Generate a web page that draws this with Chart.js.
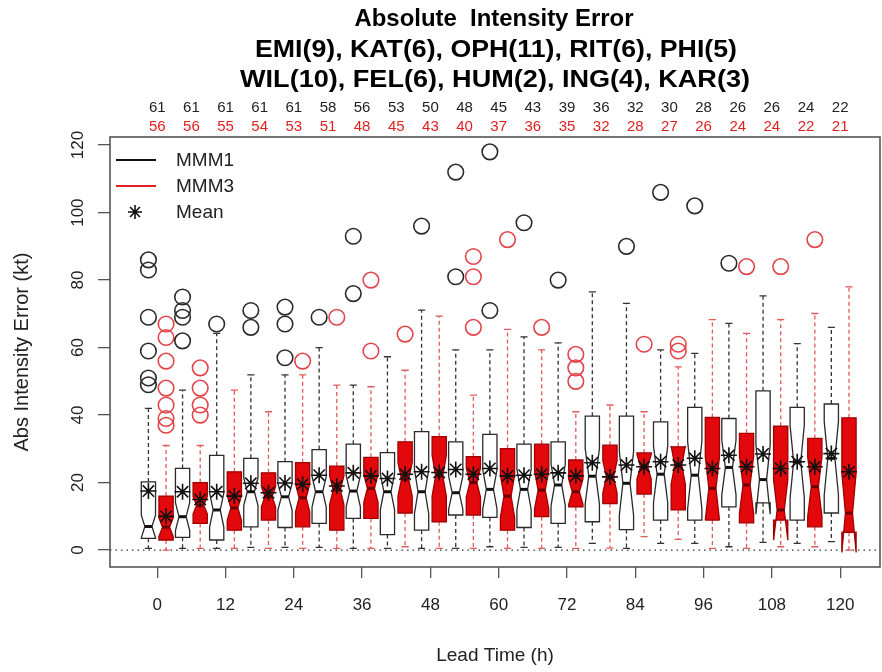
<!DOCTYPE html>
<html>
<head>
<meta charset="utf-8">
<script src="https://cdn.jsdelivr.net/npm/chart.js@4.4.1/dist/chart.umd.min.js"></script>
<style>
  html, body { margin: 0; padding: 0; background: #fff; }
</style>
</head>
<body>
<canvas id="myChart" width="882" height="672"></canvas>
<script>
// lead times (h) and sample sizes
const leadTimes = [0, 6, 12, 18, 24, 30, 36, 42, 48, 54, 60, 66, 72, 78, 84, 90, 96, 102, 108, 114, 120];
const countsMMM1 = [61, 61, 61, 61, 61, 58, 56, 53, 50, 48, 45, 43, 39, 36, 32, 30, 28, 26, 26, 24, 22];
const countsMMM3 = [56, 56, 55, 54, 53, 51, 48, 45, 43, 40, 37, 36, 35, 32, 28, 27, 26, 24, 24, 22, 21];

// MMM1 box stats (kt)
const m1Low  = [0.5, 0.5, 0.5, 0.8, 0.8, 0.8, 0.5, 0.5, 0.5, 0.5, 1, 0.8, 0.8, 2, 0.5, 2, 2, 1, 2.3, 2, 2.5];
const m1Q1   = [3.5, 3.8, 3, 6.9, 6.7, 7.9, 9.4, 4.6, 5.9, 10.4, 9.7, 6.7, 7.9, 8.4, 6.1, 8.9, 8.9, 12.8, 14, 8.9, 11];
const m1Med  = [7, 9.9, 11.9, 17.3, 15.8, 17.3, 17.5, 17.3, 17.3, 17, 18, 18, 19.3, 21.9, 19.8, 22.5, 22.2, 24.5, 20.9, 26.2, 27.2];
const m1Q3   = [20.2, 24.2, 28.1, 27.2, 26.2, 29.8, 31.4, 28.9, 35.1, 32.1, 34.3, 31.4, 32.1, 39.7, 39.7, 38, 42.3, 39, 47.2, 42.3, 43.3];
const m1High = [42, 47.4, 64.2, 51.9, 51.9, 60, 48.9, 57.3, 71.1, 59.3, 59.3, 63.2, 61.4, 76.5, 73.1, 59.3, 58.3, 67.2, 75.3, 61.2, 66];
const m1Mean = [17.5, 17.3, 17.3, 19.8, 19.9, 22.2, 22.9, 21.2, 23.2, 23.9, 24.2, 22.2, 22.9, 25.9, 25.2, 26.2, 27.2, 28.1, 28.5, 26.2, 28.6];
const m1Out  = [[86, 83, 69, 59, 51, 49], [75, 71, 69, 62], [67], [71, 66], [72, 67, 57], [69], [93, 76], [], [96], [112, 81],
                [118, 71], [97], [80], [], [90], [106], [102], [85], [], [], []];

// MMM3 box stats (kt)
const m3Low  = [0, 0.5, 0.5, 0.5, 0.5, 0.5, 0.5, 1, 0.5, 0.5, 0.5, 0.5, 0.5, 0.6, 4, 3.2, 0.5, 0.5, 1, 1, 0];
const m3Q1   = [3, 7.9, 5.9, 8.9, 6.9, 5.9, 9.4, 11, 8.4, 10.4, 5.9, 9.9, 12.8, 13.8, 16.6, 11.9, 8.9, 8.1, 8.9, 6.9, 5.3];
const m3Med  = [6.8, 13.3, 12.5, 15.8, 15.5, 17.8, 18.3, 21, 22, 20, 16, 17.8, 17.3, 21.7, 24.7, 25.2, 18.3, 19.3, 11.9, 18.8, 11];
const m3Q3   = [16, 20, 23.2, 22.9, 25.9, 24.9, 27.5, 32.1, 33.6, 27.7, 30.1, 31.4, 26.7, 31.1, 28.8, 30.6, 39.3, 34.6, 36.7, 33.1, 39.2];
const m3High = [31, 31, 47.4, 41, 51.9, 48.9, 48.4, 53.3, 69.3, 45.9, 65.4, 59.3, 41, 43, 41, 54.3, 68.3, 64.2, 68.3, 70.1, 78];
const m3Mean = [10, 15, 16, 17, 19.5, 19, 22, 22.5, 23, 22.5, 22, 22.5, 22, 21.7, 24.7, 25.2, 24.2, 24.7, 24.2, 24.7, 23.2];
const m3Out  = [[67, 63, 56, 48, 43, 39, 37], [54, 48, 43, 40], [], [], [56], [69], [80, 59], [64], [], [87, 81, 66],
                [92], [66], [58, 54, 50], [], [61], [61, 59], [], [84], [84], [92], []];

const xTicks = [0, 12, 24, 36, 48, 60, 72, 84, 96, 108, 120];
const yTicks = [0, 20, 40, 60, 80, 100, 120];

const titleLines = ['Absolute  Intensity Error',
                    'EMI(9), KAT(6), OPH(11), RIT(6), PHI(5)',
                    'WIL(10), FEL(6), HUM(2), ING(4), KAR(3)'];

const FONT = "'Liberation Sans', Arial, Helvetica, sans-serif";
const OFF = 1.55;     // half distance between the two boxes (h)
const BOXW = 2.5;     // box width (h)

const series = [
  { off: -OFF, lo: m1Low, q1: m1Q1, med: m1Med, q3: m1Q3, hi: m1High, n: countsMMM1,
    fill: '#ffffff', border: '#2a2a2a', median: '#111', whisker: '#333' },
  { off: OFF, lo: m3Low, q1: m3Q1, med: m3Med, q3: m3Q3, hi: m3High, n: countsMMM3,
    fill: '#e3080c', border: '#a00000', median: '#6a0000', whisker: '#e35a5a' }
];

function outlierPoints(out, off) {
  const pts = [];
  out.forEach((vals, i) => vals.forEach(v => pts.push({ x: leadTimes[i] + off, y: v })));
  return pts;
}

function drawBox(ctx, xs, ys, s, i) {
  const t = leadTimes[i] + s.off;
  const xc = xs.getPixelForValue(t);
  const w = xs.getPixelForValue(t + BOXW / 2) - xc;
  const iqr = s.q3[i] - s.q1[i];
  const nh = 1.58 * iqr / Math.sqrt(s.n[i]);
  const py = v => ys.getPixelForValue(v);
  const yLo = py(s.lo[i]), yQ1 = py(s.q1[i]), yMed = py(s.med[i]), yQ3 = py(s.q3[i]), yHi = py(s.hi[i]);
  const yNl = py(s.med[i] - nh), yNh = py(s.med[i] + nh);

  // whiskers
  ctx.strokeStyle = s.whisker;
  ctx.lineWidth = 1.3;
  ctx.setLineDash([4, 3]);
  ctx.beginPath();
  ctx.moveTo(xc, yQ3); ctx.lineTo(xc, yHi);
  ctx.moveTo(xc, yQ1); ctx.lineTo(xc, yLo);
  ctx.stroke();
  ctx.setLineDash([]);
  ctx.beginPath();
  ctx.moveTo(xc - w / 2, yHi); ctx.lineTo(xc + w / 2, yHi);
  ctx.moveTo(xc - w / 2, yLo); ctx.lineTo(xc + w / 2, yLo);
  ctx.stroke();

  // notched box (R bxp polygon)
  const nn = 0.5;
  ctx.beginPath();
  ctx.moveTo(xc - w, yQ1);
  ctx.lineTo(xc + w, yQ1);
  ctx.lineTo(xc + w, yNl);
  ctx.lineTo(xc + w * nn, yMed);
  ctx.lineTo(xc + w, yNh);
  ctx.lineTo(xc + w, yQ3);
  ctx.lineTo(xc - w, yQ3);
  ctx.lineTo(xc - w, yNh);
  ctx.lineTo(xc - w * nn, yMed);
  ctx.lineTo(xc - w, yNl);
  ctx.closePath();
  ctx.fillStyle = s.fill;
  ctx.fill();
  ctx.strokeStyle = s.border;
  ctx.lineWidth = 1.3;
  ctx.stroke();

  // median
  ctx.strokeStyle = s.median;
  ctx.lineWidth = 3;
  ctx.beginPath();
  ctx.moveTo(xc - w * nn, yMed); ctx.lineTo(xc + w * nn, yMed);
  ctx.stroke();
}

function fitText(ctx, text, cx, cy, width) {
  const m = ctx.measureText(text).width;
  ctx.save();
  ctx.translate(cx, cy);
  ctx.scale(width / m, 1);
  ctx.fillText(text, 0, 0);
  ctx.restore();
}

const boxPlugin = {
  id: 'boxes',
  beforeDatasetsDraw(chart) {
    const { ctx, chartArea: a, scales: { x, y } } = chart;
    ctx.save();
    // dotted zero line
    ctx.strokeStyle = '#333';
    ctx.lineWidth = 1.3;
    ctx.setLineDash([1.5, 4]);
    ctx.beginPath();
    ctx.moveTo(a.left, y.getPixelForValue(0));
    ctx.lineTo(a.right, y.getPixelForValue(0));
    ctx.stroke();
    ctx.setLineDash([]);
    leadTimes.forEach((t, i) => series.forEach(s => drawBox(ctx, x, y, s, i)));
    ctx.restore();
  },
  afterDraw(chart) {
    const { ctx, chartArea: a, scales: { x } } = chart;
    ctx.save();
    // frame
    ctx.strokeStyle = '#555';
    ctx.lineWidth = 1.6;
    ctx.strokeRect(a.left, a.top, a.right - a.left, a.bottom - a.top);

    // title
    ctx.fillStyle = '#000';
    ctx.textAlign = 'center';
    ctx.textBaseline = 'middle';
    ctx.font = 'bold 24px ' + FONT;
    fitText(ctx, titleLines[0], 494, 19, 279);
    fitText(ctx, titleLines[1], 496, 50, 482);
    fitText(ctx, titleLines[2], 495, 80, 510);

    // sample sizes
    ctx.font = '15px ' + FONT;
    leadTimes.forEach((t, i) => {
      const px = x.getPixelForValue(t);
      ctx.fillStyle = '#222';
      ctx.fillText(String(countsMMM1[i]), px, 108);
      ctx.fillStyle = '#e02020';
      ctx.fillText(String(countsMMM3[i]), px, 127);
    });

    // legend
    ctx.lineWidth = 2;
    ctx.strokeStyle = '#111';
    ctx.beginPath(); ctx.moveTo(116, 160); ctx.lineTo(156, 160); ctx.stroke();
    ctx.strokeStyle = '#e02020';
    ctx.beginPath(); ctx.moveTo(116, 186); ctx.lineTo(156, 186); ctx.stroke();
    ctx.strokeStyle = '#111';
    ctx.lineWidth = 1.6;
    const sx = 135, sy = 212, r = 7;
    ctx.beginPath();
    for (let k = 0; k < 4; k++) {
      const ang = k * Math.PI / 4;
      ctx.moveTo(sx - r * Math.cos(ang), sy - r * Math.sin(ang));
      ctx.lineTo(sx + r * Math.cos(ang), sy + r * Math.sin(ang));
    }
    ctx.stroke();
    ctx.fillStyle = '#222';
    ctx.textAlign = 'left';
    ctx.font = '19px ' + FONT;
    ctx.fillText('MMM1', 176, 161);
    ctx.fillText('MMM3', 176, 187);
    ctx.fillText('Mean', 176, 213);
    ctx.restore();
  }
};

const ctx = document.getElementById('myChart').getContext('2d');
Chart.defaults.font.family = FONT;
Chart.defaults.color = '#222';

const chart = new Chart(ctx, {
  type: 'scatter',
  data: {
    datasets: [
      { label: 'MMM1 outliers', data: outlierPoints(m1Out, -OFF), pointStyle: 'circle', pointRadius: 7.8,
        borderColor: '#2a2a2a', backgroundColor: 'rgba(0,0,0,0)', borderWidth: 1.6 },
      { label: 'MMM3 outliers', data: outlierPoints(m3Out, OFF), pointStyle: 'circle', pointRadius: 7.8,
        borderColor: '#e2444a', backgroundColor: 'rgba(0,0,0,0)', borderWidth: 1.6 },
      { label: 'MMM1 mean', data: leadTimes.map((t, i) => ({ x: t - OFF, y: m1Mean[i] })), pointStyle: 'star',
        pointRadius: 8, borderColor: '#111', borderWidth: 1.6 },
      { label: 'MMM3 mean', data: leadTimes.map((t, i) => ({ x: t + OFF, y: m3Mean[i] })), pointStyle: 'star',
        pointRadius: 8, borderColor: '#111', borderWidth: 1.6 }
    ]
  },
  options: {
    responsive: false,
    animation: false,
    layout: { autoPadding: false, padding: { top: 137, right: 2, left: 0, bottom: 0 } },
    plugins: { legend: { display: false }, tooltip: { enabled: false } },
    scales: {
      x: {
        type: 'linear', min: -8.3, max: 127,
        afterBuildTicks: s => { s.ticks = xTicks.map(v => ({ value: v })); },
        afterFit: s => { s.height = 105; s.paddingLeft = 0; s.paddingRight = 0; },
        grid: { drawOnChartArea: false, tickLength: 11, color: '#555', lineWidth: 1.3 },
        border: { display: false },
        ticks: { font: { size: 17 }, color: '#222', padding: 17, maxRotation: 0 },
        title: { display: true, text: 'Lead Time (h)', font: { size: 19 }, color: '#222', padding: { top: 0, bottom: 5 } }
      },
      y: {
        type: 'linear', min: -5, max: 122.4,
        afterBuildTicks: s => { s.ticks = yTicks.map(v => ({ value: v })); },
        afterFit: s => { s.width = 110; s.paddingTop = 0; s.paddingBottom = 0; },
        grid: { drawOnChartArea: false, tickLength: 12, color: '#555', lineWidth: 1.3 },
        border: { display: false },
        ticks: { font: { size: 17 }, color: '#222', padding: 6, minRotation: 90, maxRotation: 90, crossAlign: 'center' },
        title: { display: true, text: 'Abs Intensity Error (kt)', font: { size: 20 }, color: '#222', padding: { top: 10, bottom: 0 } }
      }
    }
  },
  plugins: [boxPlugin]
});
</script>
</body>
</html>
